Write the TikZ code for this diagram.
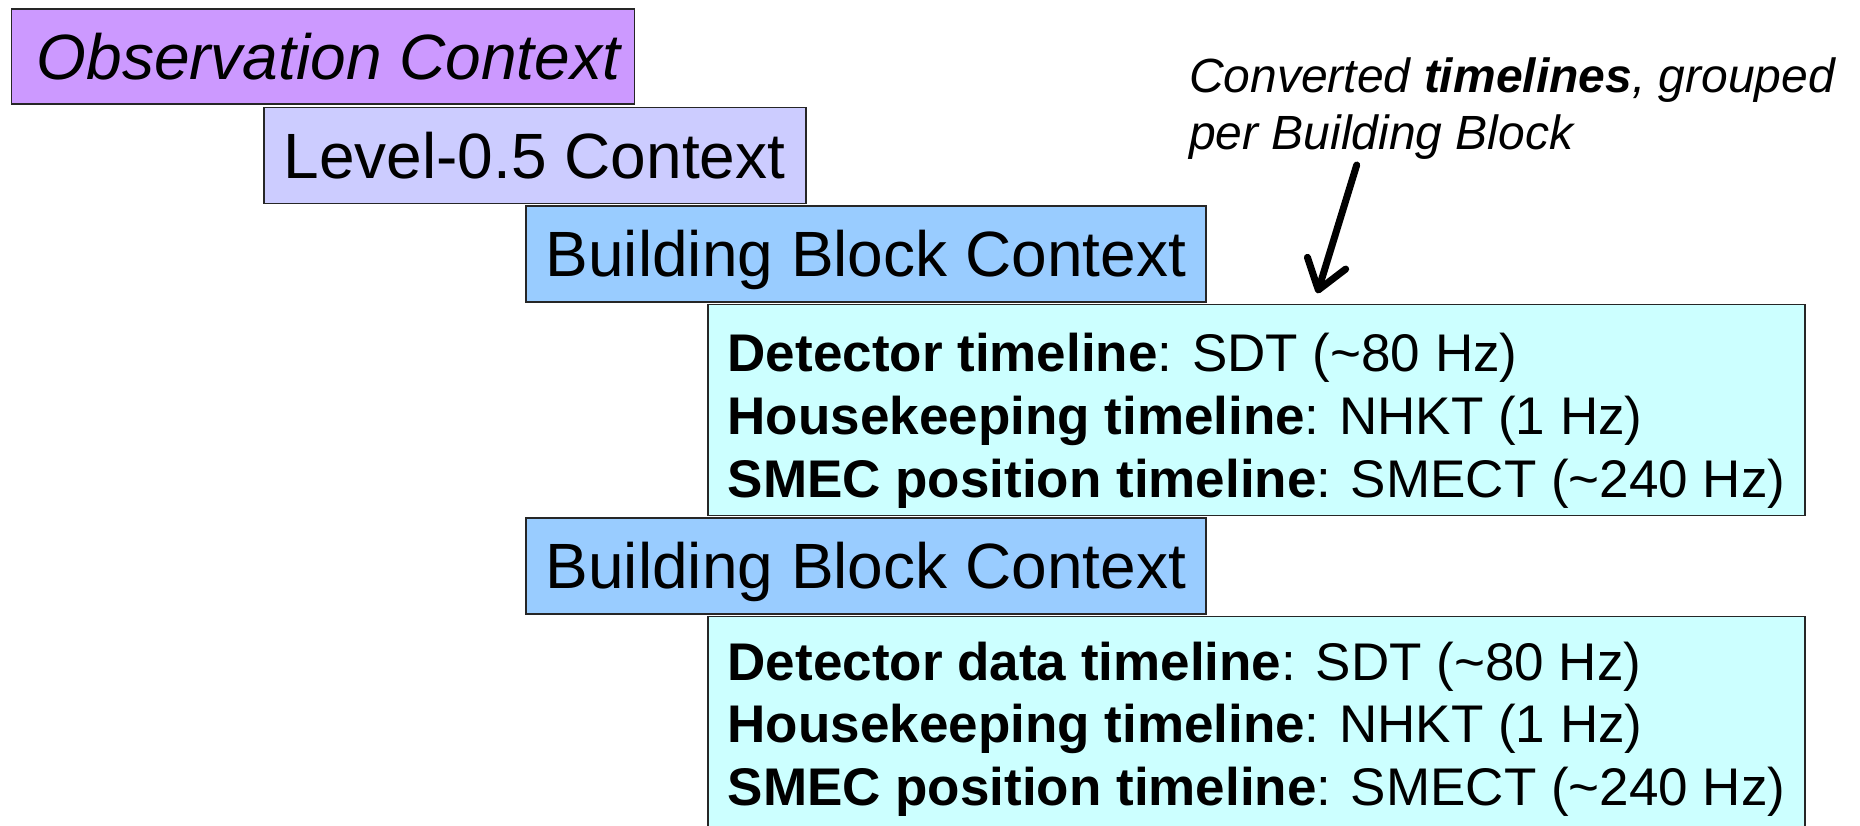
\documentclass[tikz,border=0pt]{standalone}
\usepackage{fontspec}
\setmainfont{Liberation Sans}
\usetikzlibrary{arrows.meta}
\definecolor{obsc}{HTML}{CC99FF}
\definecolor{lvlc}{HTML}{CCCCFF}
\definecolor{bbc}{HTML}{99CCFF}
\definecolor{tlc}{HTML}{CCFFFF}
\begin{document}
\begin{tikzpicture}[x=1pt,y=-1pt,
  box/.style={draw=black!85, line width=1.8pt, anchor=north west, inner sep=0pt, outer sep=0pt},
  title/.style={anchor=base west, inner sep=0pt, font=\fontsize{64}{77}\selectfont},
  tline/.style={anchor=base west, inner sep=0pt, font=\fontsize{53}{63}\selectfont},
  note/.style={anchor=base west, inner sep=0pt, font=\fontsize{48}{57}\selectfont\itshape},
  pointer/.style={line width=7pt, line cap=round, -{Straight Barb[length=28pt,width=40pt,round]}},
]
\useasboundingbox (0,0) rectangle (1860,825);
\clip (0,0) rectangle (1860,825);
% boxes
\node[box, fill=obsc, minimum width=623pt, minimum height=95pt] (obs) at (11.5,9) {};
\node[box, fill=lvlc, minimum width=542pt, minimum height=96pt] (lvl) at (264,107.5) {};
\node[box, fill=bbc, minimum width=680pt, minimum height=96pt] (bba) at (526.3,206) {};
\node[box, fill=tlc, minimum width=1097pt, minimum height=211pt] (tla) at (707.8,304.5) {};
\node[box, fill=bbc, minimum width=680pt, minimum height=96pt] (bbb) at (526.3,518) {};
\node[box, fill=tlc, minimum width=1097pt, minimum height=260pt] (tlb) at (707.8,616.5) {};
% titles
\node[title, font=\fontsize{64}{77}\selectfont\itshape] (obst) at (36.5,79) {Observation Context};
\node[title] (lvlt) at (283.5,178.6) {Level-0.5 Context};
\node[title] (bbat) at (545.5,276.6) {Building Block Context};
\node[title] (bbbt) at (545.5,588.6) {Building Block Context};
% timelines 1
\node[tline] (a1) at (727.5,371) {\textbf{Detector timeline}: SDT (\textasciitilde80 Hz)};
\node[tline] (a2) at (727.5,434) {\textbf{Housekeeping timeline}: NHKT (1 Hz)};
\node[tline] (a3) at (727.5,497) {\textbf{SMEC position timeline}: SMECT (\textasciitilde240 Hz)};
% timelines 2
\node[tline] (b1) at (727.5,680) {\textbf{Detector data timeline}: SDT (\textasciitilde80 Hz)};
\node[tline] (b2) at (727.5,742.5) {\textbf{Housekeeping timeline}: NHKT (1 Hz)};
\node[tline] (b3) at (727.5,805) {\textbf{SMEC position timeline}: SMECT (\textasciitilde240 Hz)};
% annotation
\node[note] (n1) at (1189,92.5) {Converted \textbf{timelines}, grouped};
\node[note] (n2) at (1189,149) {per Building Block};
\coordinate (atail) at (1356.7,165);
\coordinate (ahead) at (1317.3,293.3);
\draw[pointer] (atail) -- (ahead);
\end{tikzpicture}
\end{document}
